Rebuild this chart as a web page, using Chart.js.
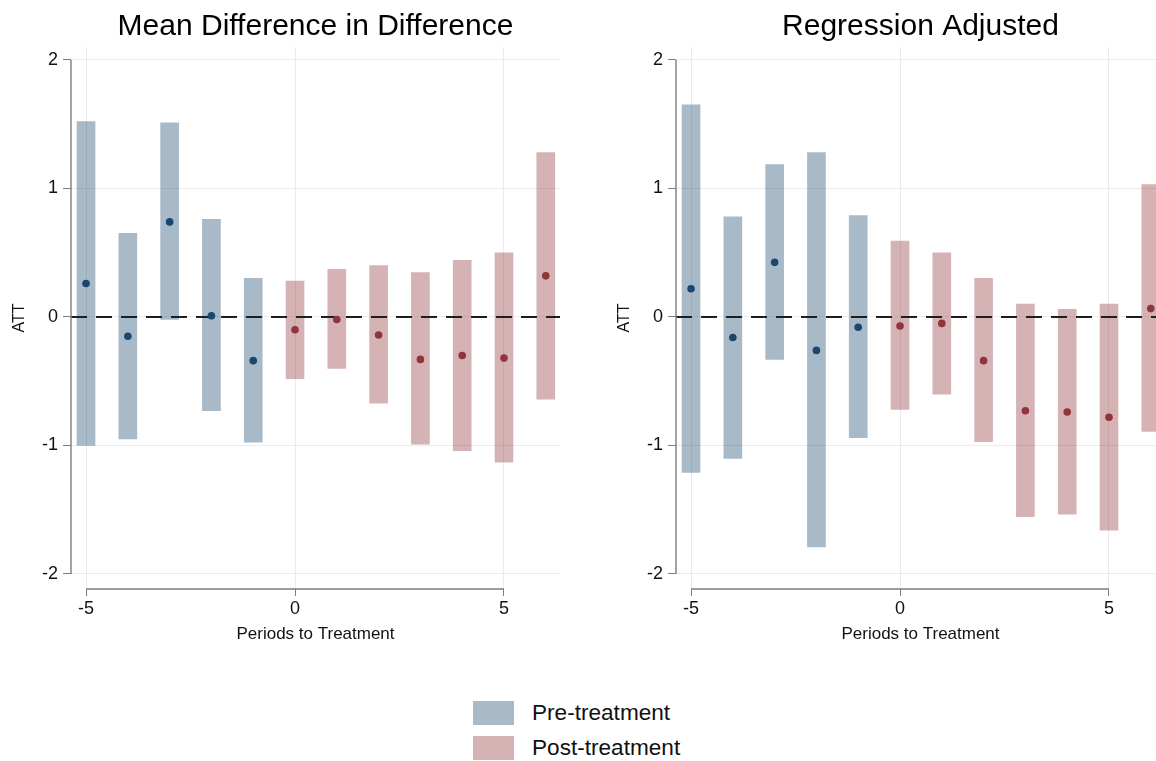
<!DOCTYPE html>
<html>
<head>
<meta charset="utf-8">
<title>ATT event study</title>
<script src="https://cdn.jsdelivr.net/npm/chart.js@4.4.1/dist/chart.umd.min.js"></script>
<style>
  html, body { margin: 0; padding: 0; background: #fff; }
  #wrap { position: relative; width: 1156px; height: 761px; overflow: hidden;
          font-family: "Liberation Sans", Arial, Helvetica, sans-serif; }
  .panel { position: absolute; top: 0; width: 632px; height: 660px; }
  #p1 { left: 0; }
  #p2 { left: 605px; }
  #legend { position: absolute; left: 473px; top: 701px; }
  .row { display: flex; align-items: center; height: 24px; margin-bottom: 11px; }
  .sw { width: 41px; height: 24px; margin-right: 18px; }
  .lab { font-size: 22.6px; color: #111; }
</style>
</head>
<body>
<div id="wrap">
  <div class="panel" id="p1"><canvas id="cMdd"></canvas></div>
  <div class="panel" id="p2"><canvas id="cReg"></canvas></div>
  <div id="legend">
    <div class="row"><div class="sw" id="swPre"></div><span class="lab">Pre-treatment</span></div>
    <div class="row"><div class="sw" id="swPost"></div><span class="lab">Post-treatment</span></div>
  </div>
</div>
<script>
// event-study estimates
const periods = [-5, -4, -3, -2, -1, 0, 1, 2, 3, 4, 5, 6];

// Mean Difference in Difference
const mddEst = [0.26, -0.15, 0.74, 0.01, -0.34, -0.10, -0.02, -0.14, -0.33, -0.30, -0.32, 0.32];
const mddLo  = [-1.00, -0.95, -0.02, -0.73, -0.975, -0.48, -0.40, -0.67, -0.99, -1.04, -1.13, -0.64];
const mddHi  = [1.52, 0.65, 1.51, 0.76, 0.30, 0.28, 0.37, 0.40, 0.345, 0.44, 0.50, 1.28];

// Regression Adjusted
const regEst = [0.22, -0.16, 0.425, -0.26, -0.08, -0.07, -0.05, -0.34, -0.73, -0.74, -0.78, 0.065];
const regLo  = [-1.21, -1.10, -0.33, -1.79, -0.94, -0.72, -0.60, -0.97, -1.555, -1.535, -1.66, -0.89];
const regHi  = [1.65, 0.78, 1.185, 1.28, 0.79, 0.59, 0.50, 0.30, 0.10, 0.06, 0.10, 1.03];

const xTicks = [-5, 0, 5];
const yTicks = [-2, -1, 0, 1, 2];
const xMin = -5.36, xMax = 6.34;
const yMin = -2.117, yMax = 2.101;

const FONT = '"Liberation Sans", Arial, Helvetica, sans-serif';
const navy = 'rgb(26,71,111)', maroon = 'rgb(144,53,59)';
const navyBar = 'rgba(26,71,111,0.38)', maroonBar = 'rgba(144,53,59,0.38)';
const gridCol = '#ebebeb', axisCol = '#7d7d7d', ink = '#111';

document.getElementById('swPre').style.background = navyBar;
document.getElementById('swPost').style.background = maroonBar;

// axis lines only span the labelled range (Stata style) + dashed zero line under the dots
const frame = {
  id: 'frame',
  beforeDatasetsDraw(chart) { chart.$zeroDone = false; },
  beforeDatasetDraw(chart, args) {
    if (args.meta.type !== 'scatter' || chart.$zeroDone) return;
    chart.$zeroDone = true;
    const { ctx, chartArea: a, scales: { y } } = chart;
    const py = Math.round(y.getPixelForValue(0));
    ctx.save();
    ctx.strokeStyle = '#1e1e1e';
    ctx.lineWidth = 2;
    ctx.setLineDash([16, 9]);
    ctx.beginPath();
    ctx.moveTo(a.left, py);
    ctx.lineTo(a.right, py);
    ctx.stroke();
    ctx.restore();
  },
  afterDraw(chart) {
    const { ctx, chartArea: a, scales: { x, y } } = chart;
    ctx.save();
    ctx.strokeStyle = axisCol;
    ctx.lineWidth = 1.4;
    ctx.beginPath();
    ctx.moveTo(a.left, y.getPixelForValue(yTicks[yTicks.length - 1]));
    ctx.lineTo(a.left, y.getPixelForValue(yTicks[0]));
    ctx.moveTo(x.getPixelForValue(xTicks[0]), a.bottom);
    ctx.lineTo(x.getPixelForValue(xTicks[xTicks.length - 1]), a.bottom);
    ctx.stroke();
    ctx.restore();
  }
};

function split(est, lo, hi, pre) {
  const bars = [], pts = [];
  periods.forEach((k, i) => {
    if ((k < 0) === pre) {
      bars.push({ x: k, y: [lo[i], hi[i]] });
      pts.push({ x: k, y: est[i] });
    }
  });
  return { bars, pts };
}

function makeChart(id, title, est, lo, hi) {
  const pre = split(est, lo, hi, true);
  const post = split(est, lo, hi, false);
  const barOpts = { type: 'bar', barThickness: 18, grouped: false, borderWidth: 0, order: 2 };
  const ptOpts = { type: 'scatter', pointRadius: 3.8, pointHoverRadius: 3.8, borderWidth: 0, order: 1 };

  return new Chart(document.getElementById(id), {
    type: 'bar',
    data: {
      datasets: [
        { ...barOpts, label: 'Pre-treatment', data: pre.bars, backgroundColor: navyBar },
        { ...barOpts, label: 'Post-treatment', data: post.bars, backgroundColor: maroonBar },
        { ...ptOpts, label: 'Pre estimate', data: pre.pts, backgroundColor: navy },
        { ...ptOpts, label: 'Post estimate', data: post.pts, backgroundColor: maroon }
      ]
    },
    options: {
      responsive: true,
      maintainAspectRatio: false,
      animation: false,
      layout: { padding: { left: 0, right: 72, top: 0, bottom: 0 } },
      plugins: {
        legend: { display: false },
        tooltip: { enabled: false },
        title: {
          display: true, text: title, fullSize: false, color: '#000',
          font: { size: 30, family: FONT, weight: 'normal', lineHeight: 1.2 },
          padding: { top: 8.6, bottom: 2.4 }
        }
      },
      scales: {
        x: {
          type: 'linear', min: xMin, max: xMax, offset: false,
          afterBuildTicks: s => { s.ticks = xTicks.map(v => ({ value: v })); },
          afterFit: s => { s.height = 71; },
          border: { display: false },
          grid: { color: gridCol, tickColor: axisCol, tickLength: 7, offset: false, lineWidth: 1 },
          ticks: { padding: 2, color: ink, maxRotation: 0, autoSkip: false,
                   font: { size: 18, family: FONT }, callback: v => String(v) },
          title: { display: true, text: 'Periods to Treatment', color: ink,
                   font: { size: 17, family: FONT }, padding: { top: 0, bottom: 15 } }
        },
        y: {
          type: 'linear', min: yMin, max: yMax,
          afterBuildTicks: s => { s.ticks = yTicks.map(v => ({ value: v })); },
          afterFit: s => { s.width = 71; },
          border: { display: false },
          grid: { color: gridCol, tickColor: axisCol, tickLength: 8, lineWidth: 1 },
          ticks: { padding: 5, color: ink, font: { size: 18, family: FONT }, callback: v => String(v) },
          title: { display: true, text: 'ATT', color: ink,
                   font: { size: 16, family: FONT }, padding: { top: 10.4, bottom: 0 } }
        }
      }
    },
    plugins: [frame]
  });
}

makeChart('cMdd', 'Mean Difference in Difference', mddEst, mddLo, mddHi);
makeChart('cReg', 'Regression Adjusted', regEst, regLo, regHi);
</script>
</body>
</html>
